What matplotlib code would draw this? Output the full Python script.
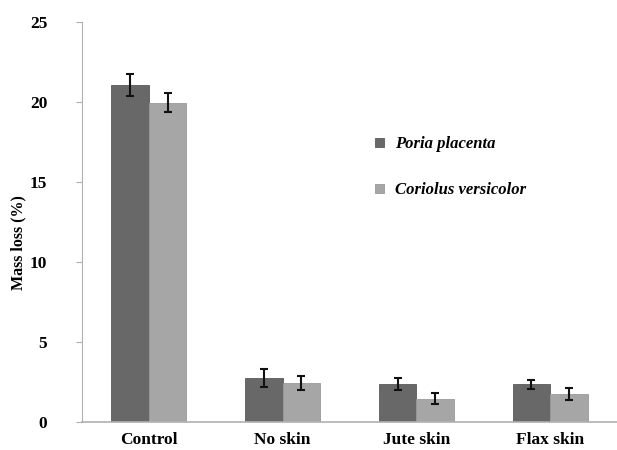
import numpy as np
import matplotlib.pyplot as plt

categories = ["Control", "No skin", "Jute skin", "Flax skin"]
poria = [21.05, 2.75, 2.4, 2.35]
poria_err = [0.7, 0.55, 0.38, 0.3]
coriolus = [19.95, 2.45, 1.45, 1.75]
coriolus_err = [0.6, 0.45, 0.35, 0.35]

plt.rcParams['font.family'] = ['Liberation Serif', 'DejaVu Serif']

fig = plt.figure(figsize=(6.17, 4.5), dpi=100)
ax = fig.add_axes([0.133, 0.062, 0.867, 0.889])

x = np.arange(len(categories))
w = 0.28
ax.bar(x - w/2, poria, w, color='#686868', edgecolor='#5a5a5a', linewidth=0.6,
       label='Poria placenta')
ax.bar(x + w/2, coriolus, w, color='#a6a6a6', edgecolor='#999999', linewidth=0.6,
       label='Coriolus versicolor')
ax.errorbar(x - w/2, poria, yerr=poria_err, fmt='none', ecolor='#111111',
            elinewidth=1.5, capsize=3, capthick=1.5)
ax.errorbar(x + w/2, coriolus, yerr=coriolus_err, fmt='none', ecolor='#111111',
            elinewidth=1.5, capsize=3, capthick=1.5)

ax.set_xlim(-0.5, 3.5)
ax.set_ylim(0, 25)
ax.set_yticks([0, 5, 10, 15, 20, 25])
ax.set_xticks(x)
ax.set_xticklabels(categories, fontsize=12.5, fontweight='bold')
for lab in ax.get_yticklabels():
    lab.set_fontsize(12.5)
    lab.set_fontweight('bold')
ax.tick_params(axis='x', length=0, pad=7)
ax.tick_params(axis='y', length=4, color='#b0b0b0', pad=21)
ax.set_ylabel('Mass loss (%)', fontsize=11.5, fontweight='bold')
ax.yaxis.set_label_coords(-0.104, 0.45)

for s in ['top', 'right']:
    ax.spines[s].set_visible(False)
ax.spines['left'].set_color('#b0b0b0')
ax.spines['bottom'].set_color('#b0b0b0')
ax.spines['bottom'].set_linewidth(1.2)

ax.legend(loc='upper left', bbox_to_anchor=(0.52, 0.752), frameon=False,
          prop={'style': 'italic', 'weight': 'bold', 'size': 12},
          handlelength=0.5, handleheight=0.5, labelspacing=1.8, handletextpad=0.7)

fig.savefig('out.png', dpi=100)
